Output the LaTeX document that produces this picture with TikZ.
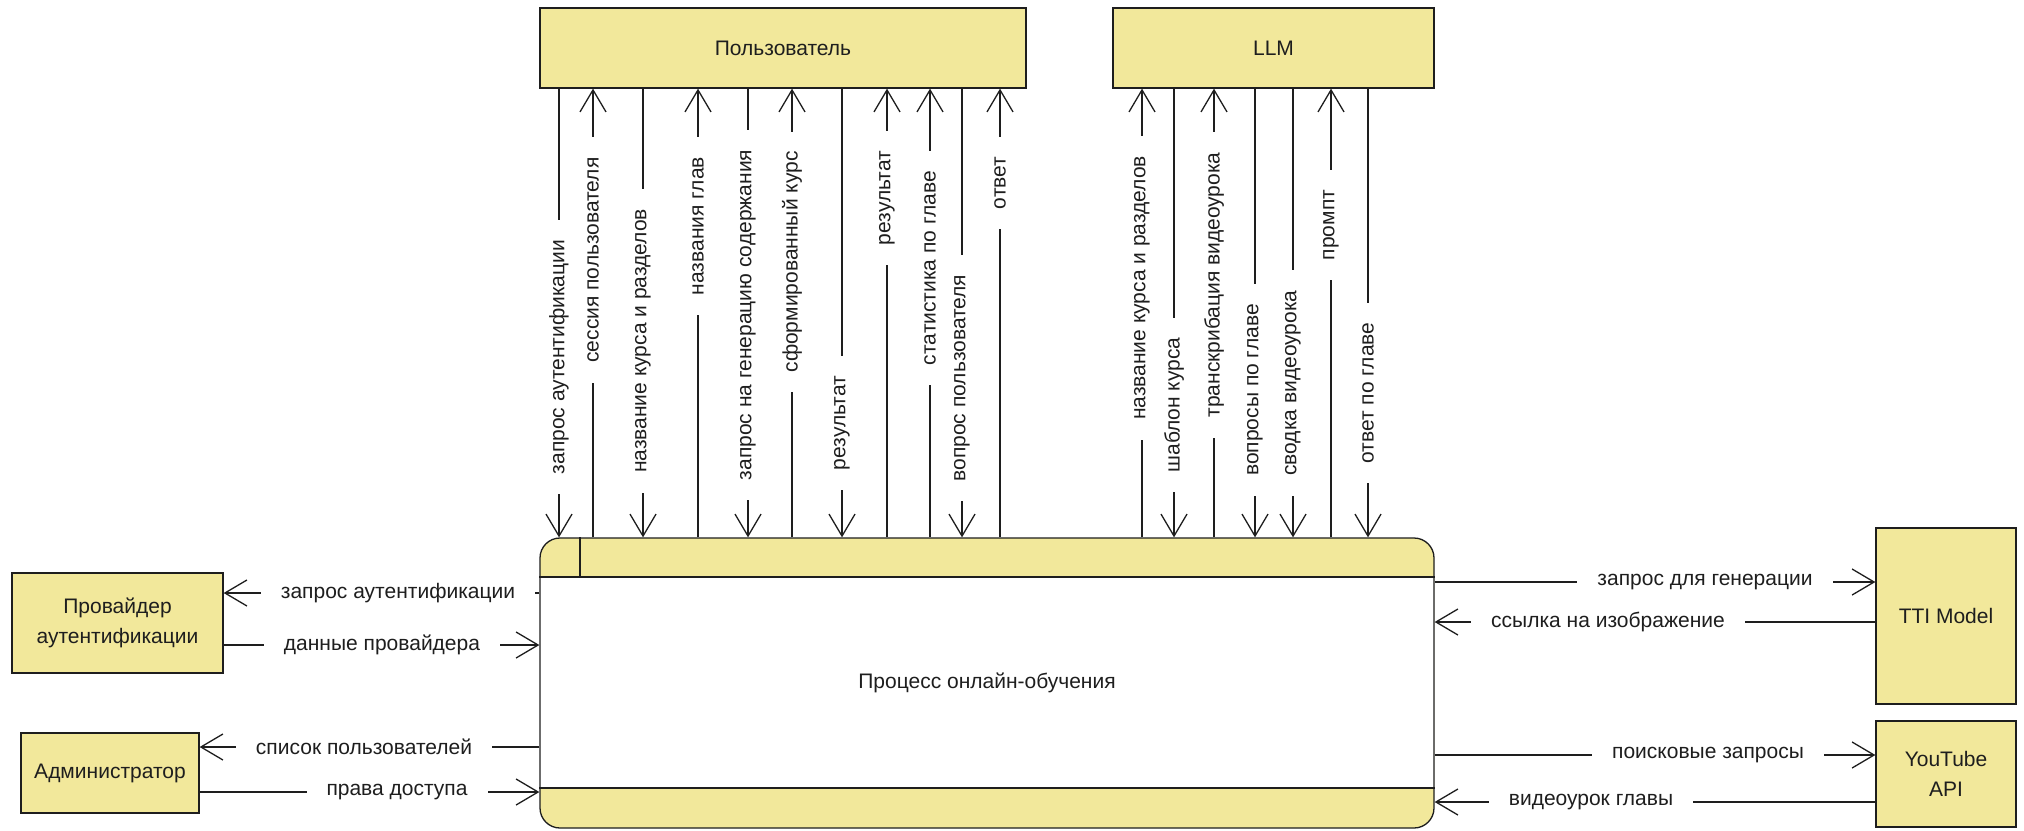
\documentclass[tikz,border=0pt]{standalone}
\usepackage{fontspec}
\setmainfont{Liberation Sans}
\usetikzlibrary{arrows.meta}
\definecolor{boxy}{RGB}{242,232,155}
\definecolor{ink}{RGB}{30,30,30}
\begin{document}
\begin{tikzpicture}[x=1pt,y=-1pt,
  ent/.style={draw=ink, line width=1.3pt, fill=boxy, rectangle, align=center, font=\fontsize{21}{30}\selectfont, text=ink, inner sep=0pt},
  flow/.style={draw=ink, line width=1.3pt, -{Straight Barb[length=22pt,width=26pt,line width=1.3pt]}},
  lbl/.style={fill=white, inner xsep=20pt, inner ysep=1pt, font=\fontsize{21}{25}\selectfont, text=ink},
]
\useasboundingbox[fill=white] (0,0) rectangle (2024,830);

% entities
\node[ent, minimum width=486pt, minimum height=80pt] (user) at (783,48) {Пользователь};
\node[ent, minimum width=321pt, minimum height=80pt] (llm) at (1273.5,48) {LLM};
\node[ent, minimum width=211pt, minimum height=100pt] (prov) at (117.5,623) {Провайдер\\аутентификации};
\node[ent, minimum width=178pt, minimum height=80pt] (admin) at (110,773) {Администратор};
\node[ent, minimum width=140pt, minimum height=176pt] (tti) at (1946,616) {TTI Model};
\node[ent, minimum width=140pt, minimum height=106pt] (yt) at (1946,774) {YouTube\\API};

% process
\fill[boxy, rounded corners=20pt] (540,538) rectangle (1434,828);
\fill[white] (540,577) rectangle (1434,788);
\node[draw=ink, line width=1.3pt, rounded corners=20pt, minimum width=894pt, minimum height=290pt, font=\fontsize{21}{25}\selectfont, text=ink, inner sep=0pt] (proc) at (987,683) {Процесс онлайн-обучения};
\coordinate (hb) at (0,577);
\coordinate (fb) at (0,788);
\coordinate (dv) at (580,0);
\draw[ink, line width=1.3pt] (proc.west |- hb) -- (proc.east |- hb);
\draw[ink, line width=1.3pt] (proc.west |- fb) -- (proc.east |- fb);
\draw[ink, line width=1.3pt] (proc.north -| dv) -- (hb -| dv);

% user -> process
\foreach \x/\yc/\t [count=\i] in {559/357/{запрос аутентификации}, 643/341/{название курса и разделов}, 748/315/{запрос на генерацию содержания}, 842/423/{результат}, 962/378/{вопрос пользователя}} {
  \coordinate (ud\i) at (\x,0);
  \draw[flow] (user.south -| ud\i) -- (proc.north -| ud\i);
  \node[lbl, rotate=90] (udl\i) at (\x,\yc) {\t};
}
% process -> user
\foreach \x/\yc/\t [count=\i] in {593/260/{сессия пользователя}, 698/226/{названия глав}, 792/262/{сформированный курс}, 887/198/{результат}, 930/268/{статистика по главе}, 1000/183/{ответ}} {
  \coordinate (uu\i) at (\x,0);
  \draw[flow] (proc.north -| uu\i) -- (user.south -| uu\i);
  \node[lbl, rotate=90] (uul\i) at (\x,\yc) {\t};
}
% process -> llm
\foreach \x/\yc/\t [count=\i] in {1142/288/{название курса и разделов}, 1214/285/{транскрибация видеоурока}, 1331/225/{промпт}} {
  \coordinate (lu\i) at (\x,0);
  \draw[flow] (proc.north -| lu\i) -- (llm.south -| lu\i);
  \node[lbl, rotate=90] (lul\i) at (\x,\yc) {\t};
}
% llm -> process
\foreach \x/\yc/\t [count=\i] in {1174/405/{шаблон курса}, 1255/390/{вопросы по главе}, 1293/383/{сводка видеоурока}, 1368/393/{ответ по главе}} {
  \coordinate (ld\i) at (\x,0);
  \draw[flow] (llm.south -| ld\i) -- (proc.north -| ld\i);
  \node[lbl, rotate=90] (ldl\i) at (\x,\yc) {\t};
}

% left side
\coordinate (h1) at (0,593);
\coordinate (h2) at (0,645);
\coordinate (h3) at (0,747);
\coordinate (h4) at (0,792);
\draw[flow] (proc.west |- h1) -- (prov.east |- h1);
\node[lbl] (hl1) at (398,593) {запрос аутентификации};
\draw[flow] (prov.east |- h2) -- (proc.west |- h2);
\node[lbl] (hl2) at (382,645) {данные провайдера};
\draw[flow] (proc.west |- h3) -- (admin.east |- h3);
\node[lbl] (hl3) at (364,747) {список пользователей};
\draw[flow] (admin.east |- h4) -- (proc.west |- h4);
\node[lbl] (hl4) at (397,792) {права доступа};

% right side
\coordinate (r1) at (0,582);
\coordinate (r2) at (0,622);
\coordinate (r3) at (0,755);
\coordinate (r4) at (0,802);
\draw[flow] (proc.east |- r1) -- (tti.west |- r1);
\node[lbl] (rl1) at (1705,582) {запрос для генерации};
\draw[flow] (tti.west |- r2) -- (proc.east |- r2);
\node[lbl] (rl2) at (1608,622) {ссылка на изображение};
\draw[flow] (proc.east |- r3) -- (yt.west |- r3);
\node[lbl] (rl3) at (1708,755) {поисковые запросы};
\draw[flow] (yt.west |- r4) -- (proc.east |- r4);
\node[lbl] (rl4) at (1591,802) {видеоурок главы};
\end{tikzpicture}
\end{document}
